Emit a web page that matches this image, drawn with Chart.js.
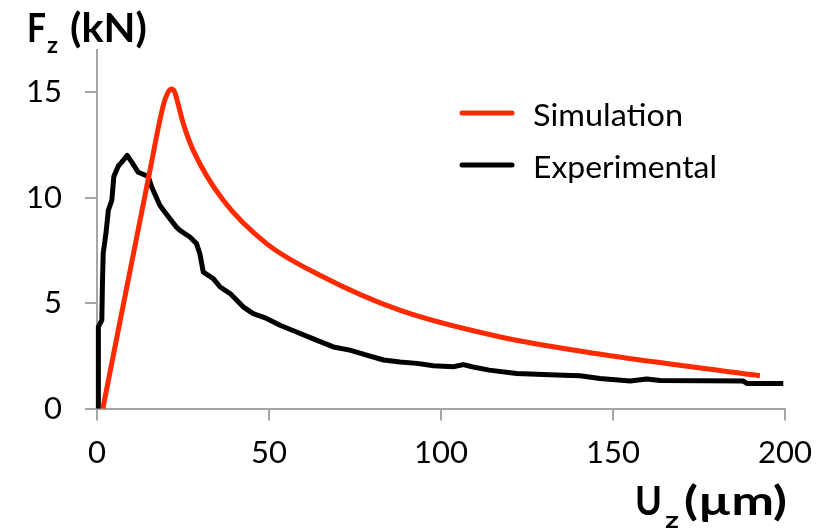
<!DOCTYPE html>
<html>
<head>
<meta charset="utf-8">
<script src="https://cdn.jsdelivr.net/npm/chart.js@4"></script>
<style>
  html, body { margin: 0; padding: 0; background: #fff; }
  #chart { display: block; }
</style>
</head>
<body>
<canvas id="chart" width="834" height="531"></canvas>
<script>
// Simulation curve (U in µm, F in kN)
const simU = [1.7, 15.4, 19.3, 20.6, 21.7, 22.6, 23.4, 25.1, 28, 36.7, 49.3, 64.8, 88, 117, 146, 192.7];
const simF = [0, 11.3, 14.4, 14.98, 15.15, 15.0, 14.55, 13.5, 12.23, 9.87, 7.82, 6.32, 4.66, 3.4, 2.58, 1.55];

// Experimental curve
const expU = [0.4, 0.4, 1.4, 1.6, 1.8, 2.6, 3.3, 4.3, 4.9, 6.2, 7.2, 8.8, 10.1, 12.0, 14.9, 15.9, 18.3, 21.2, 23.1, 24.1, 27, 28, 28.9, 29.9, 30.9, 33.8, 35.8, 38.7, 42.5, 45.4, 49.3, 53.2, 58, 62.9, 68.7, 73.5, 78.4, 83.3, 88.1, 93, 97.8, 103.6, 106.5, 109, 114, 122, 135.6, 140.4, 146.2, 155, 159.8, 163.7, 187.9, 188.9, 199.5];
const expF = [0, 3.87, 4.19, 6.08, 7.36, 8.3, 9.4, 9.87, 11.0, 11.5, 11.68, 12.0, 11.68, 11.2, 11.0, 10.5, 9.63, 9.0, 8.6, 8.45, 8.13, 7.97, 7.83, 7.34, 6.47, 6.16, 5.76, 5.45, 4.82, 4.5, 4.27, 3.95, 3.63, 3.3, 2.92, 2.77, 2.53, 2.3, 2.21, 2.14, 2.03, 1.98, 2.08, 1.98, 1.82, 1.66, 1.58, 1.55, 1.42, 1.3, 1.4, 1.33, 1.3, 1.19, 1.19];

const seriesNames = ['Simulation', 'Experimental'];
const seriesColors = ['#ff2a00', '#000000'];
const xTicks = [0, 50, 100, 150, 200];
const yTicks = [0, 5, 10, 15];

const FONT = 'Lato, "Open Sans", sans-serif';
const AXIS_GREY = '#a6a6a6';

function toPoints(xs, ys) {
    return xs.map((x, i) => ({ x: x, y: ys[i] }));
}

// draw text squeezed/stretched to a given width
function fitText(ctx, text, x, y, width) {
    const w = ctx.measureText(text).width;
    ctx.save();
    ctx.translate(x, y);
    ctx.scale(width / w, 1);
    ctx.fillText(text, 0, 0);
    ctx.restore();
}

// legend + axis titles (subscripts need manual drawing)
const overlayPlugin = {
    id: 'overlay',
    afterDraw(chart) {
        const ctx = chart.ctx;
        ctx.save();

        // legend
        const legendRows = [113, 165];
        const legendWidths = [150, 184];
        ctx.lineCap = 'round';
        seriesNames.forEach((name, i) => {
            ctx.strokeStyle = seriesColors[i];
            ctx.lineWidth = 5;
            ctx.beginPath();
            ctx.moveTo(462, legendRows[i]);
            ctx.lineTo(512, legendRows[i]);
            ctx.stroke();
            ctx.fillStyle = '#000';
            ctx.font = '31px ' + FONT;
            ctx.textBaseline = 'alphabetic';
            ctx.textAlign = 'left';
            fitText(ctx, name, 533, legendRows[i] + 13, legendWidths[i]);
        });

        // axis titles
        ctx.fillStyle = '#000';
        ctx.textAlign = 'left';
        ctx.textBaseline = 'alphabetic';

        ctx.font = 'bold 40px ' + FONT;
        fitText(ctx, 'F', 27, 42, 19);
        fitText(ctx, '(kN)', 70, 42, 77);
        ctx.font = 'bold 23px ' + FONT;
        fitText(ctx, 'z', 47, 53, 11);

        ctx.font = 'bold 40px ' + FONT;
        fitText(ctx, 'U', 635, 515, 27);
        fitText(ctx, '(µm)', 684, 515, 103);
        ctx.font = 'bold 23px ' + FONT;
        fitText(ctx, 'z', 665, 528, 14);

        ctx.restore();
    }
};

const ctx = document.getElementById('chart').getContext('2d');
const chart = new Chart(ctx, {
    type: 'scatter',
    data: {
        datasets: [
            {
                label: seriesNames[0],
                data: toPoints(simU, simF),
                showLine: true,
                borderColor: seriesColors[0],
                borderWidth: 5,
                pointRadius: 0,
                cubicInterpolationMode: 'monotone',
                clip: false
            },
            {
                label: seriesNames[1],
                data: toPoints(expU, expF),
                showLine: true,
                borderColor: seriesColors[1],
                borderWidth: 5,
                borderJoinStyle: 'round',
                pointRadius: 0,
                tension: 0,
                clip: false
            }
        ]
    },
    options: {
        responsive: false,
        animation: false,
        layout: { padding: { top: 50, right: 49, left: 0, bottom: 0 } },
        plugins: {
            legend: { display: false },
            tooltip: { enabled: false }
        },
        scales: {
            x: {
                type: 'linear',
                min: 0,
                max: 200,
                afterFit: (scale) => { scale.height = 122.5; },
                afterBuildTicks: (scale) => { scale.ticks = xTicks.map(v => ({ value: v })); },
                ticks: {
                    font: { family: FONT, size: 31 },
                    color: '#000',
                    padding: 14,
                    maxRotation: 0
                },
                grid: {
                    drawOnChartArea: false,
                    drawTicks: true,
                    tickLength: 12,
                    color: AXIS_GREY,
                    lineWidth: 2
                },
                border: { color: AXIS_GREY, width: 2 }
            },
            y: {
                type: 'linear',
                min: 0,
                max: 17,
                afterFit: (scale) => { scale.width = 97; },
                afterBuildTicks: (scale) => { scale.ticks = yTicks.map(v => ({ value: v })); },
                ticks: {
                    font: { family: FONT, size: 31 },
                    color: '#000',
                    padding: 23
                },
                grid: {
                    drawOnChartArea: false,
                    drawTicks: true,
                    tickLength: 12,
                    color: AXIS_GREY,
                    lineWidth: 2
                },
                border: { color: AXIS_GREY, width: 2 }
            }
        }
    },
    plugins: [overlayPlugin]
});
</script>
</body>
</html>
